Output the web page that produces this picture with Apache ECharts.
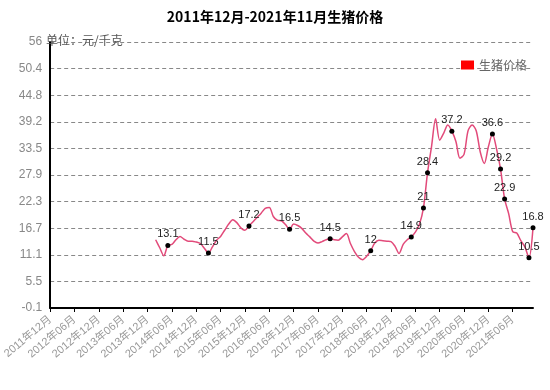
<!DOCTYPE html>
<html>
<head>
<meta charset="utf-8">
<script src="https://cdn.jsdelivr.net/npm/echarts@6/dist/echarts.min.js"></script>
<style>html,body{margin:0;padding:0;background:#fff;}#c{width:550px;height:390px;}</style>
</head>
<body>
<div id="c"></div>
<script>
// Monthly categories: 2011年12月 .. 2021年11月 (120 months)
const startYear = 2011, startMonth = 12, monthCount = 120;
const categories = [];
for (let k = 0; k < monthCount; k++) {
  const m = (startMonth - 1 + k) % 12 + 1;
  const y = startYear + Math.floor((startMonth - 1 + k) / 12);
  categories.push(y + '年' + (m < 10 ? '0' + m : m) + '月');
}
// Price series (元/千克), first value is 2014年02月
const firstPriceMonth = '2014年02月';
const prices = [
  14.3, 12.6, 10.9, 13.1, 13.3, 14.3, 15.0, 14.4, 14.0, 14.0, 13.8,   // 2014-02..2014-12
  13.5, 12.5, 11.5, 12.8, 14.2, 15.0, 16.3, 17.6, 18.5, 17.9, 16.8, 16.3, // 2015
  17.2, 18.1, 19.0, 19.9, 20.9, 21.1, 19.2, 18.4, 18.3, 17.5, 16.5, 17.6, // 2016
  17.3, 16.7, 15.7, 14.9, 14.0, 13.6, 13.9, 14.3, 14.5, 14.3, 14.2, 14.9, // 2017
  15.6, 13.5, 11.8, 10.6, 10.1, 10.8, 12, 13.6, 14.2, 14.1, 14.0, 13.9,   // 2018
  12.9, 11.4, 13.3, 14.3, 14.9, 15.9, 17.5, 21, 28.4, 34.0, 39.8, 35.3,   // 2019
  36.8, 38.5, 37.2, 35.0, 31.5, 32.3, 37.3, 38.5, 37.3, 32.8, 30.4, 33.9, // 2020
  36.6, 33.5, 29.2, 22.9, 19.8, 16.0, 15.7, 14.1, 12.8, 10.5, 16.8        // 2021-01..2021-11
];
// Months whose points are marked with a dot and value label
const labeledMonths = ['2014年05月','2015年03月','2016年01月','2016年11月','2017年09月',
  '2018年07月','2019年05月','2019年08月','2019年09月','2020年03月','2021年01月',
  '2021年03月','2021年04月','2021年10月','2021年11月'];
const yTickLabels = ['-0.1','5.5','11.1','16.7','22.3','27.9','33.5','39.2','44.8','50.4','56'];
const yMin = -0.1, yMax = 56;
const seriesName = '生猪价格';
const titleText = '2011年12月-2021年11月生猪价格';
const unitText = '单位：元/千克';

const offset = categories.indexOf(firstPriceMonth);
const seriesData = categories.map((c, i) => {
  const v = (i >= offset && i - offset < prices.length) ? prices[i - offset] : null;
  if (v === null) return { value: null };
  if (labeledMonths.indexOf(c) >= 0) {
    return { value: v, symbol: 'circle', symbolSize: 5, label: { show: true } };
  }
  return { value: v, symbol: 'none' };
});

const chart = echarts.init(document.getElementById('c'), null, { renderer: 'canvas' });
chart.setOption({
  animation: false,
  backgroundColor: '#fff',
  title: [
    { text: titleText, left: 'center', top: 5,
      textStyle: { fontSize: 14, fontWeight: 'bold', color: '#000', fontFamily: 'Noto Sans CJK SC' } },
    { text: unitText, left: 41, top: 29,
      textStyle: { fontSize: 12, fontWeight: 'normal', color: '#555', fontFamily: 'Noto Sans CJK SC' } }
  ],
  legend: {
    data: [{ name: seriesName, itemStyle: { color: '#ff0000' } }],
    left: 456, top: 54, icon: 'rect', itemWidth: 13, itemHeight: 9, itemGap: 4,
    textStyle: { fontSize: 12, color: '#666', fontFamily: 'Noto Sans CJK SC' }
  },
  grid: { left: 43, right: 17, top: 42, bottom: 82, containLabel: false },
  xAxis: {
    type: 'category', data: categories, boundaryGap: false,
    axisLine: { onZero: false, lineStyle: { color: '#000', width: 2 } },
    axisTick: { interval: 5, length: 4, lineStyle: { color: '#000' } },
    axisLabel: { interval: 5, rotate: 40, margin: 10, fontSize: 11, color: '#999',
      fontFamily: 'Liberation Sans, Noto Sans CJK SC' },
    splitLine: { show: false }
  },
  yAxis: [
    { type: 'value', min: 0, max: 10, interval: 1,
      axisLine: { show: true, lineStyle: { color: '#000', width: 2 } },
      axisTick: { show: false },
      axisLabel: { margin: 8, fontSize: 12, color: '#888', fontFamily: 'Liberation Sans',
        formatter: v => yTickLabels[Math.round(v)] },
      splitLine: { show: true, lineStyle: { color: '#888', type: [4, 3], width: 1 } } },
    { type: 'value', min: yMin, max: yMax, show: false }
  ],
  series: [{
    name: seriesName, type: 'line', yAxisIndex: 1, data: seriesData,
    smooth: 0.3, showAllSymbol: true, connectNulls: false,
    lineStyle: { color: '#e24a7a', width: 1.5 },
    itemStyle: { color: '#000' },
    label: { show: false, position: 'top', distance: 3, fontSize: 11, color: '#222',
      fontFamily: 'Liberation Sans' },
    emphasis: { disabled: true }
  }]
});
</script>
</body>
</html>
